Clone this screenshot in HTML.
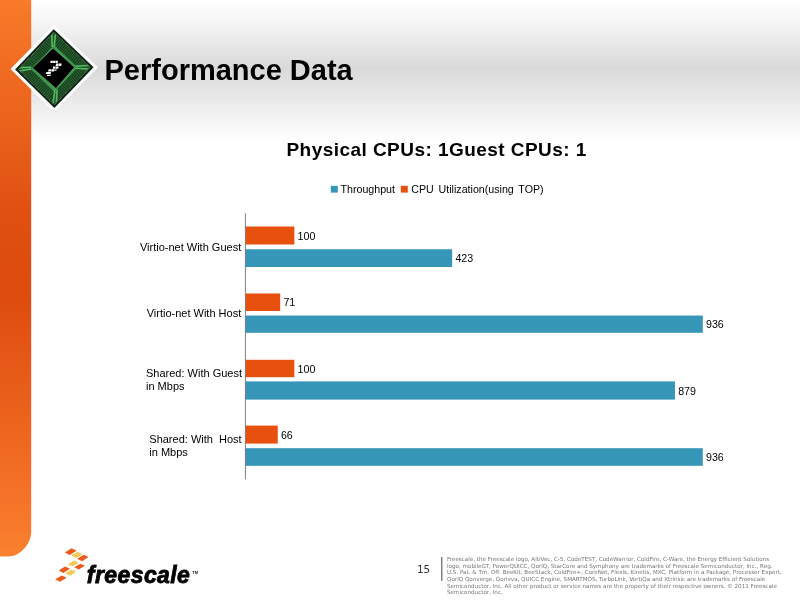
<!DOCTYPE html>
<html>
<head>
<meta charset="utf-8">
<title>Performance Data</title>
<style>
html,body{margin:0;padding:0;}
body{width:800px;height:600px;position:relative;overflow:hidden;background:#fff;font-family:"Liberation Sans",sans-serif;color:#000;}
.abs{position:absolute;}
#hdr{left:0;top:0;width:800px;height:142px;background:linear-gradient(to bottom,#ffffff 0px,#f1f1f1 30px,#d9d9d9 68px,#ececec 105px,#ffffff 140px);}
#stripe{left:0;top:0;}
#title{left:104.500px;top:51.800px;font-size:29px;font-weight:bold;line-height:36px;white-space:nowrap;word-spacing:0px;}
#ctitle{left:286.500px;top:136.500px;letter-spacing:0.45px;font-size:19px;font-weight:bold;line-height:26px;white-space:nowrap;word-spacing:0px;}
.lg{font-size:10.670px;line-height:14px;white-space:nowrap;top:182px;}
.v{font-size:10.670px;line-height:14px;white-space:nowrap;}
.cat{font-size:11px;line-height:13px;white-space:nowrap;}
#pn{left:417px;top:563.200px;font-family:"DejaVu Sans",sans-serif;font-size:10.400px;line-height:12px;color:#333;}
#vr{left:441px;top:557px;width:2px;height:24px;background:linear-gradient(to right,#808080 0,#808080 1px,#c4c4c4 1px,#c4c4c4 2px);}
#legal{left:447px;top:556.200px;width:340px;font-family:"DejaVu Sans",sans-serif;font-size:5.600px;line-height:6.600px;color:#757575;white-space:nowrap;}
#fs{left:86.800px;top:560.600px;font-size:23px;line-height:28px;font-weight:bold;font-style:italic;letter-spacing:0.420px;-webkit-text-stroke:0.800px #000;white-space:nowrap;}
#tm{left:192.300px;top:569.500px;font-size:4px;line-height:6px;font-weight:bold;white-space:nowrap;color:#222;}
</style>
</head>
<body>
<div id="hdr" class="abs"></div>
<svg id="stripe" class="abs" width="40" height="560" viewBox="0 0 40 560">
<defs><linearGradient id="sg" gradientUnits="userSpaceOnUse" x1="0" y1="0" x2="0" y2="556">
<stop offset="0" stop-color="#f87a2a"/><stop offset="0.381" stop-color="#e05012"/><stop offset="0.522" stop-color="#dd4b0f"/><stop offset="0.719" stop-color="#ea5f1b"/><stop offset="0.899" stop-color="#f57328"/><stop offset="1" stop-color="#f9812f"/>
</linearGradient></defs>
<path d="M0 0 H31.200 V531.500 C31.200 543 21 556.500 8 556.500 H0 Z" fill="url(#sg)"/>
</svg>

<svg class="abs" style="left:0;top:15px" width="110" height="105" viewBox="0 15 110 105">
  <defs>
    <clipPath id="gclip"><polygon points="53.700,31 91.700,67.200 54.400,106.200 16.900,69.400"/></clipPath>
  </defs>
  <polygon points="53.700,26 97,67.200 54,111 11.500,69" fill="#ffffff" stroke="#ffffff" stroke-width="1.500" stroke-linejoin="round"/>
  <polygon points="53.700,31 91.700,67.200 54.400,106.200 16.900,69.400" fill="#3d944b"/>
  <g clip-path="url(#gclip)">
    <polygon points="53.800,38.600 84,67.300 54.400,98.500 24.600,69.300" fill="none" stroke="#0a1c0d" stroke-width="9" stroke-dasharray="0.900 1.200" opacity="0.650"/>
    <polygon points="53.800,38.600 84,67.300 54.400,98.500 24.600,69.300" fill="none" stroke="#0a1c0d" stroke-width="9" opacity="0.420"/>
    <g fill="none">
      <polygon points="53,48 50.200,31 57.200,31" fill="#1f5c2a"/>
      <polygon points="74.500,67.200 91.700,63.800 91.700,70.600" fill="#1f5c2a"/>
      <polygon points="56,88.500 58,106.200 50.900,106.200" fill="#1f5c2a"/>
      <polygon points="32.500,68 16.900,72.700 16.900,66.100" fill="#1f5c2a"/>
      <line x1="52.200" y1="47" x2="51.700" y2="32" stroke="#58b863" stroke-width="1.600"/>
      <line x1="54.200" y1="47" x2="55.700" y2="32" stroke="#58b863" stroke-width="1.600"/>
      <line x1="75.500" y1="66.200" x2="90.500" y2="65.200" stroke="#58b863" stroke-width="1.600"/>
      <line x1="75.500" y1="68.200" x2="90.500" y2="69.300" stroke="#58b863" stroke-width="1.600"/>
      <line x1="55" y1="89.500" x2="52.700" y2="105" stroke="#58b863" stroke-width="1.600"/>
      <line x1="57" y1="89.500" x2="56.400" y2="105" stroke="#58b863" stroke-width="1.600"/>
      <line x1="31.500" y1="67.200" x2="18" y2="67.600" stroke="#58b863" stroke-width="1.600"/>
      <line x1="31.500" y1="69" x2="18" y2="71.200" stroke="#58b863" stroke-width="1.600"/>
    </g>
  </g>
  <polygon points="53.700,31 91.700,67.200 54.400,106.200 16.900,69.400" fill="none" stroke="#0e2412" stroke-width="2.600"/>
  <polygon points="53.700,32.300 90.300,67.200 54.400,104.900 18.300,69.400" fill="none" stroke="#ffffff" stroke-width="0.700" stroke-dasharray="0.800 0.900" opacity="0.800"/>
  <polygon points="53,48 74.500,67.200 56,88.500 32.500,68" fill="#000" stroke="#7fcf86" stroke-width="0.500"/>
  <g fill="#fff">
    <polygon points="50.800,60.700 53,60.700 52.500,63.100 50.300,63.100"/>
    <polygon points="53.300,60.700 55.500,60.700 55,63.100 52.800,63.100"/>
    <polygon points="55.800,60.700 58,60.700 57.500,63.100 55.300,63.100"/>
    <polygon points="56.100,63.600 58.700,63.600 58.200,66 55.600,66"/>
    <polygon points="59,63.600 61.700,63.600 61.200,66 58.500,66"/>
    <polygon points="53.200,66.400 55.800,66.400 55.300,68.700 52.700,68.700"/>
    <polygon points="56.100,66.400 58.700,66.400 58.200,68.700 55.600,68.700"/>
    <polygon points="48.600,69.200 51.400,69.200 50.900,71.600 48.100,71.600"/>
    <polygon points="51.700,69.200 54.700,69.200 54.200,71.500 51.200,71.500"/>
    <polygon points="55,69.400 56.700,69.400 56.400,70.800 54.700,70.800"/>
    <polygon points="46.400,72.100 51,72.100 50.600,74.100 46,74.100"/>
    <polygon points="47.100,74.700 50.800,74.700 50.500,76.100 46.800,76.100"/>
  </g>
</svg>


<div id="title" class="abs">Performance Data</div>

<div id="ctitle" class="abs">Physical CPUs: 1Guest CPUs: 1</div>

<svg class="abs" style="left:0;top:0" width="800" height="600" viewBox="0 0 800 600">
<rect x="330.800" y="185.800" width="7" height="6.800" fill="#3596b8"/>
<rect x="400.800" y="185.800" width="7" height="6.800" fill="#e8500e"/>
<rect x="245.0" y="226.50" width="49.36" height="18.00" fill="#e8500e"/>
<rect x="245.0" y="249.25" width="207.16" height="17.75" fill="#3596b8"/>
<rect x="245.0" y="293.50" width="35.19" height="17.50" fill="#e8500e"/>
<rect x="245.0" y="315.55" width="457.80" height="17.25" fill="#3596b8"/>
<rect x="245.0" y="359.80" width="49.36" height="17.40" fill="#e8500e"/>
<rect x="245.0" y="381.40" width="429.95" height="18.20" fill="#3596b8"/>
<rect x="245.0" y="425.60" width="32.75" height="18.00" fill="#e8500e"/>
<rect x="245.0" y="448.20" width="457.80" height="17.60" fill="#3596b8"/>
<rect x="244.900" y="213.250" width="1" height="266" fill="#808080"/>
<polygon points="64.8,552.5 71.5,548.3 76.5,550.7 69.6,555.0" fill="#ee5a1c"/>
<polygon points="71.2,555.4 77.5,551.7 82.5,554.2 76.2,557.9" fill="#f6c95c"/>
<polygon points="77.1,558.8 83.8,554.8 88.5,557.1 82.1,561.2" fill="#ee5a1c"/>
<polygon points="67.7,564.2 74.2,560.4 78.8,562.7 72.5,566.5" fill="#f6c95c"/>
<polygon points="74.2,567.3 80.4,563.8 85.0,565.8 78.8,569.6" fill="#ee5a1c"/>
<polygon points="58.8,570.4 65.0,566.5 70.0,568.8 63.3,572.9" fill="#ee5a1c"/>
<polygon points="65.0,573.3 71.5,569.6 76.2,572.1 70.0,575.8" fill="#f6c95c"/>
<polygon points="55.2,579.2 61.7,575.4 66.7,577.7 60.0,581.7" fill="#ee5a1c"/>
</svg>

<div class="abs lg" style="left:340.500px">Throughput</div>
<div class="abs lg" style="left:411.300px;word-spacing:1.800px">CPU Utilization(using TOP)</div>

<div class="abs v" style="left:297.6px;top:228.7px">100</div>
<div class="abs v" style="left:455.4px;top:251.3px">423</div>
<div class="abs v" style="left:283.4px;top:295.4px">71</div>
<div class="abs v" style="left:706.0px;top:317.4px">936</div>
<div class="abs v" style="left:297.6px;top:361.7px">100</div>
<div class="abs v" style="left:678.2px;top:383.7px">879</div>
<div class="abs v" style="left:280.9px;top:427.8px">66</div>
<div class="abs v" style="left:706.0px;top:450.2px">936</div>

<div class="abs cat" style="right:558.800px;top:240.500px">Virtio-net With Guest</div>
<div class="abs cat" style="right:558.800px;top:306.500px">Virtio-net With Host</div>
<div class="abs cat" style="left:146px;top:366.900px">Shared: With Guest<br>in Mbps</div>
<div class="abs cat" style="left:149.300px;top:433px">Shared: With&nbsp; Host<br>in Mbps</div>

<div id="fs" class="abs">freescale</div>
<div id="tm" class="abs">TM</div>

<div id="pn" class="abs">15</div>
<div id="vr" class="abs"></div>
<div id="legal" class="abs">Freescale, the Freescale logo, AltiVec, C-5, CodeTEST, CodeWarrior, ColdFire, C-Ware, the Energy Efficient Solutions<br>logo, mobileGT, PowerQUICC, QorIQ, StarCore and Symphony are trademarks of Freescale Semiconductor, Inc., Reg.<br>U.S. Pat. &amp; Tm. Off. BeeKit, BeeStack, ColdFire+, CoreNet, Flexis, Kinetis, MXC, Platform in a Package, Processor Expert,<br>QorIQ Qonverge, Qorivva, QUICC Engine, SMARTMOS, TurboLink, VortiQa and Xtrinsic are trademarks of Freescale<br>Semiconductor, Inc. All other product or service names are the property of their respective owners. © 2011 Freescale<br>Semiconductor, Inc.</div>

</body>
</html>
